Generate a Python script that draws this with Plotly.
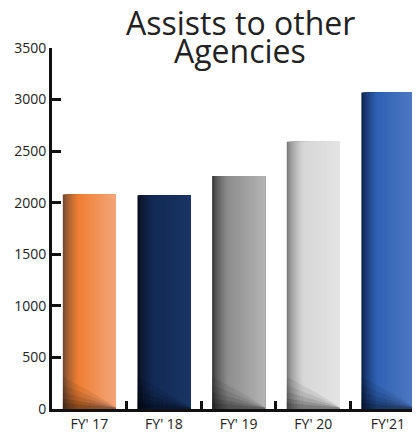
import plotly.graph_objects as go

categories = ["FY' 17", "FY' 18", "FY' 19", "FY' 20", "FY'21"]
values = [2080, 2073, 2258, 2592, 3068]

title_lines = ["Assists to other", "Agencies"]

# per-bar colour stops across the bar width: (left shadow, main, right highlight)
dark_edge = ["#5a3f33", "#070b16", "#2a2a2a", "#6a6a6a", "#08173a"]
main_col = ["#f07f33", "#122a55", "#8e8e8e", "#d6d6d6", "#2f62b4"]
right_col = ["#f3a57a", "#1a3564", "#b3b3b3", "#e4e4e4", "#5079c2"]

def hex2rgb(h):
    h = h.lstrip("#")
    return tuple(int(h[i:i + 2], 16) for i in (0, 2, 4))

def mix(a, b, t):
    ra, rb = hex2rgb(a), hex2rgb(b)
    return "rgb(%d,%d,%d)" % tuple(round(ra[i] + (rb[i] - ra[i]) * t) for i in range(3))

def colour_at(i, t):
    if t < 0.3:
        s = (t / 0.3) ** 0.6
        return mix(dark_edge[i], main_col[i], s)
    return mix(main_col[i], right_col[i], (t - 0.3) / 0.7)

bar_w = 0.71
n_slices = 36
step = bar_w / n_slices
n = len(categories)
fig = go.Figure()
for k in range(n_slices):
    t = (k + 0.5) / n_slices
    fig.add_trace(go.Bar(
        x=categories, y=values,
        width=[bar_w - k * step] * n,
        offset=[-bar_w / 2 + k * step] * n,
        marker=dict(color=[colour_at(i, t) for i in range(n)], line=dict(width=0)),
        hoverinfo="skip", showlegend=False,
    ))

# bottom shadow wedge (style only): darker at the lower left, fading to the right
shade_layers = [(300, 0.07), (220, 0.08), (150, 0.10), (90, 0.12), (45, 0.14)]
shade_slices = 40
sstep = bar_w / shade_slices
for h0, alpha in shade_layers:
    for k in range(shade_slices):
        t = (k + 0.5) / shade_slices
        h = h0 * (1 - t) ** 0.9 + 12
        fig.add_trace(go.Bar(
            x=categories, y=[h] * n,
            width=[sstep * 1.02] * n,
            offset=[-bar_w / 2 + k * sstep] * n,
            marker=dict(color="rgba(0,0,0,%.3f)" % alpha, line=dict(width=0)),
            hoverinfo="skip", showlegend=False,
        ))

fig.update_layout(
    width=412, height=426,
    margin=dict(l=44, r=0, t=40, b=25),
    paper_bgcolor="white", plot_bgcolor="white",
    barmode="overlay",
    font=dict(family="Open Sans, DejaVu Sans, sans-serif", color="#222222", size=14),
    xaxis=dict(range=[-0.5, 4.43], showgrid=False, showline=True, linecolor="#111111",
               linewidth=3, ticks="inside", ticklen=8, tickwidth=3, tickcolor="#111111",
               tickson="boundaries", zeroline=False, tickfont=dict(size=14)),
    yaxis=dict(range=[0, 3500], dtick=500, showgrid=False, showline=True,
               linecolor="#111111", linewidth=3, ticks="inside", ticklen=9,
               tickwidth=3, tickcolor="#111111", zeroline=False, tickfont=dict(size=14)),
    annotations=[
        dict(text=title_lines[0], xref="paper", yref="paper", x=0.511, y=1.071,
             xanchor="center", yanchor="middle", showarrow=False,
             font=dict(size=32, color="#222222")),
        dict(text=title_lines[1], xref="paper", yref="paper", x=0.511, y=0.993,
             xanchor="center", yanchor="middle", showarrow=False,
             font=dict(size=32, color="#222222")),
    ],
)
fig.write_html("out.html")
